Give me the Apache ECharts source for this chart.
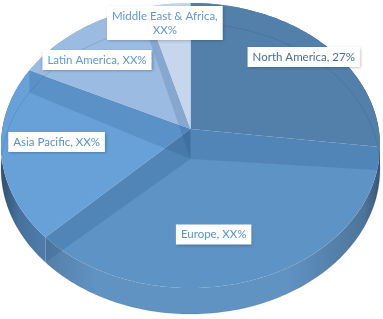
<!DOCTYPE html>
<html><head><meta charset="utf-8">
<script src="https://cdn.jsdelivr.net/npm/echarts@6/dist/echarts.min.js"></script>
<style>html,body{margin:0;padding:0;background:#fff}#c{width:383px;height:319px}</style>
</head><body><div id="c"></div>
<script>
// ---- data ----
const categories = ['North America', 'Europe', 'Asia Pacific', 'Latin America', 'Middle East & Africa'];
const values = [27, 35.5, 19.7, 13.5, 4.3];
const labelTexts = ['North America, 27%', 'Europe, XX%', 'Asia Pacific, XX%', 'Latin America, XX%', 'Middle East & Africa,\nXX%'];

// ---- styles / layout ----
const topColors = ['#5280aa', '#5e93c5', '#67a1d8', '#9bbbe2', '#c6d6ec'];
const sideColors = ['#4b7aa3', '#6092c2', '#5a8ec4', '#8fb0d8', '#b8cbe6'];
const labelColors = ['#4a6d92', '#5b93cc', '#5b90c8', '#5f98d2', '#5f98d2'];
const labelRadius = [0.84, 0.70, 0.71, 0.74, 0.84];
const labelAngleShift = [1, 9.6, 2.1, -5.6, -2.5];
const geo = { cx: 190.5, cy: 129, A: 188.2, B: 140.6, k: 0.1158, H: 23, Hc: 30 };

const total = values.reduce((a, b) => a + b, 0);
const starts = [];
{ let acc = 0; values.forEach(v => { starts.push(acc / total * 360); acc += v; }); }

function proj(deg, r, drop) {
  const t = deg * Math.PI / 180;
  const u = r * Math.sin(t), v = r * Math.cos(t);
  const s = 1 / (1 + geo.k * v);
  return [geo.cx + geo.A * u * s, geo.cy + (-geo.B * v + drop) * s];
}
function arc(a0, a1, r, drop) {
  const pts = [];
  const n = Math.max(2, Math.ceil(Math.abs(a1 - a0)));
  for (let j = 0; j <= n; j++) pts.push(proj(a0 + (a1 - a0) * j / n, r, drop));
  return pts;
}
function shade(hex, f) {
  const n = parseInt(hex.slice(1), 16);
  const r = (n >> 16) & 255, g = (n >> 8) & 255, b = n & 255;
  const m = c => Math.round(c * (1 - f));
  return 'rgb(' + m(r) + ',' + m(g) + ',' + m(b) + ')';
}

const chart = echarts.init(document.getElementById('c'), null, { renderer: 'canvas' });
chart.setOption({
  animation: false,
  series: [{
    type: 'custom',
    coordinateSystem: 'none',
    data: values.map((v, i) => ({ name: categories[i], value: v })),
    renderItem: function (params, api) {
      const i = params.dataIndex;
      const a0 = starts[i];
      const a1 = a0 + api.value(0) / total * 360;
      const W = api.getWidth();
      const center = [geo.cx, geo.cy];
      const sidePts = arc(a0, a1, 1, 0).concat(arc(a1, a0, 1, geo.H));
      const base = sideColors[i];
      const grad = {
        type: 'linear', x: 0, y: 0, x2: W, y2: 0, global: true,
        colorStops: [
          { offset: 0, color: shade(base, 0.45) },
          { offset: 0.05, color: shade(base, 0.2) },
          { offset: 0.25, color: base },
          { offset: 0.75, color: base },
          { offset: 0.95, color: shade(base, 0.2) },
          { offset: 1, color: shade(base, 0.45) }
        ]
      };
      const mid = (a0 + a1) / 2 + labelAngleShift[i];
      const lp = proj(mid, labelRadius[i], 0);
      return {
        type: 'group',
        children: [
          { type: 'polygon', z2: 1, shape: { points: sidePts }, style: { fill: grad } },
          { type: 'polygon', z2: 10, shape: { points: [center].concat(arc(a0, a1, 1, 0)) }, style: { fill: topColors[i] } },
          { type: 'polyline', z2: 12, shape: { points: arc(a0, a1, 1, geo.H) }, style: { stroke: 'rgba(20,50,90,0.14)', lineWidth: 1, fill: null } },
          { type: 'polygon', z2: 15, shape: { points: [center, proj(a0, 1, 0), proj(a0, 1, geo.H), [geo.cx, geo.cy + geo.Hc]] }, style: { fill: 'rgba(25,60,110,0.16)' } },
          {
            type: 'text', z2: 30, x: lp[0], y: lp[1],
            style: {
              text: labelTexts[i], fill: labelColors[i],
              font: '11.5px Lato', align: 'center', verticalAlign: 'middle', lineHeight: 14,
              backgroundColor: '#ffffff', padding: [3, 5, 3, 5],
              shadowColor: 'rgba(0,0,0,0.28)', shadowBlur: 3, shadowOffsetX: 1, shadowOffsetY: 1
            }
          }
        ]
      };
    }
  }]
});
</script></body></html>
